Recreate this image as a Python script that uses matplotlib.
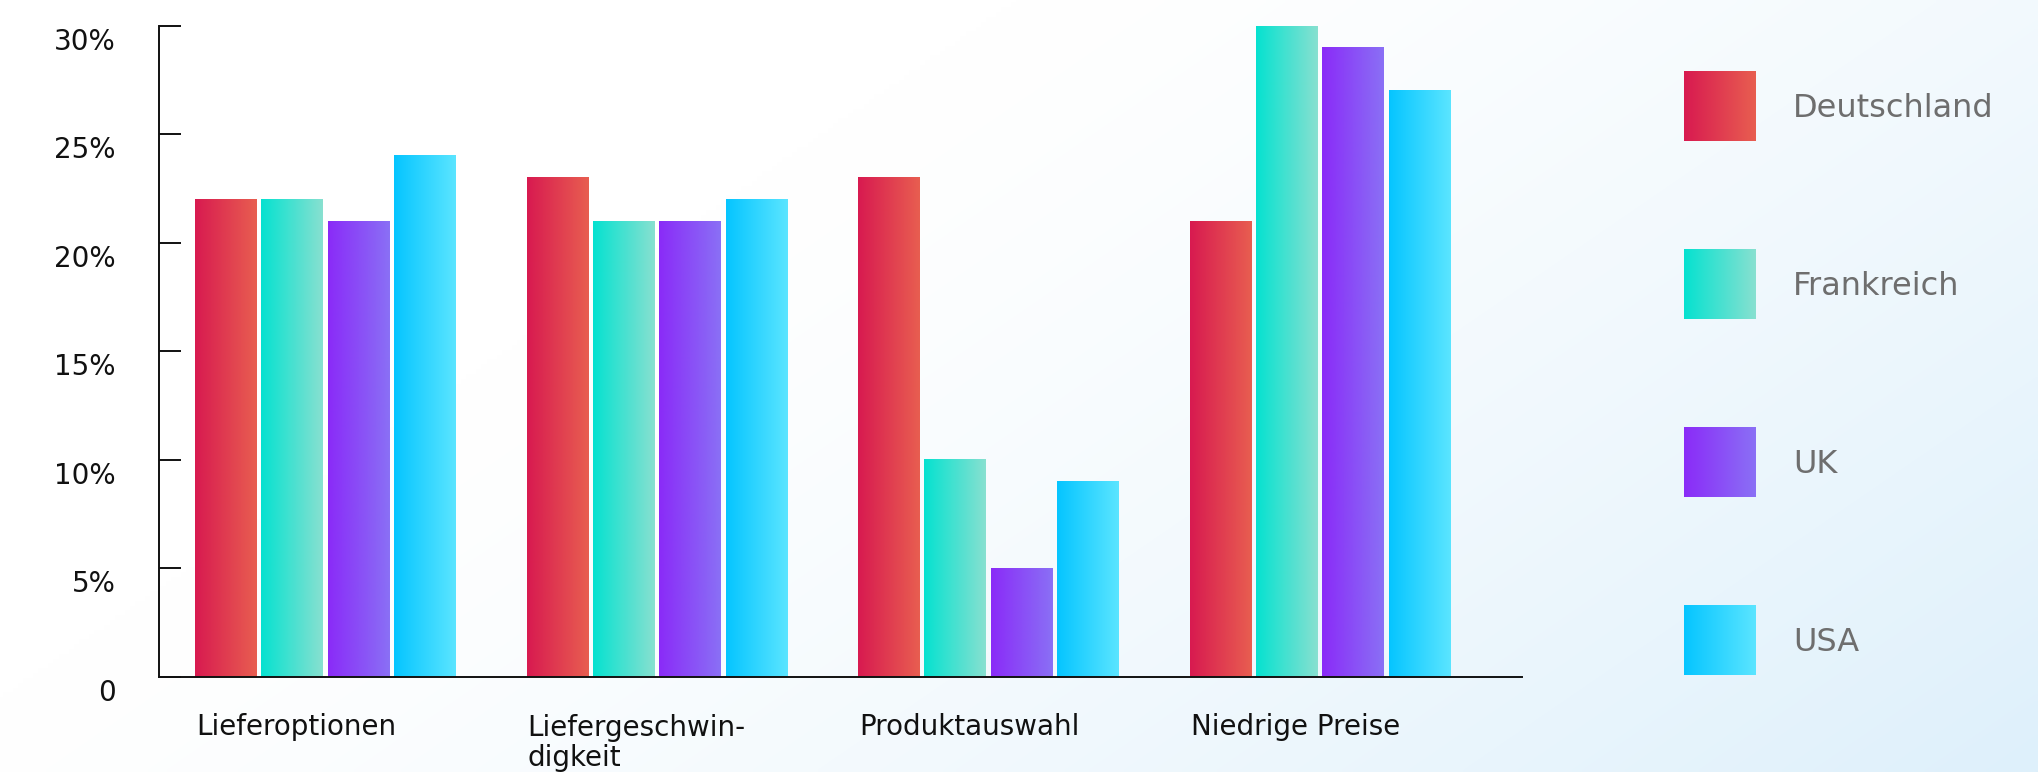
import matplotlib
matplotlib.use('Agg')
import matplotlib.pyplot as plt
import matplotlib.transforms as mtransforms
from matplotlib.colors import LinearSegmentedColormap
import numpy as np

# data
categories = ['Lieferoptionen', 'Liefergeschwin-\ndigkeit', 'Produktauswahl', 'Niedrige Preise']
countries = ['Deutschland', 'Frankreich', 'UK', 'USA']
deutschland = [22, 23, 23, 21]
frankreich = [22, 21, 10, 30]
uk = [21, 21, 5, 29]
usa = [24, 22, 9, 27]
yticks = [0, 5, 10, 15, 20, 25, 30]
ytick_labels = ['0', '5%', '10%', '15%', '20%', '25%', '30%']

series = [deutschland, frankreich, uk, usa]
gradients = [('#D81A50', '#E85E50'),
             ('#05E2D0', '#88E0D0'),
             ('#8A2BF8', '#8A70F5'),
             ('#05C5FF', '#5BE5FF')]

W, H = 2038, 772
fig = plt.figure(figsize=(W / 100, H / 100), dpi=100)

# background: white fading into light blue towards the bottom right
bg = fig.add_axes([0, 0, 1, 1], zorder=0)
xx, yy = np.meshgrid(np.linspace(0, 1, 400), np.linspace(0, 1, 160))
t = np.clip((xx + 0.55 * yy - 0.5) / 1.05, 0, 1) ** 1.3
c0 = np.array([255, 255, 255]) / 255
c1 = np.array([222, 240, 251]) / 255
img = c0 + (c1 - c0) * t[..., None]
bg.imshow(img, extent=[0, W, H, 0], aspect='auto', interpolation='bilinear')
bg.set_xlim(0, W)
bg.set_ylim(H, 0)
bg.axis('off')

# main axes
ax = fig.add_axes([159 / W, 95 / H, (1522 - 159) / W, (677 - 25.7) / H], zorder=1)
ax.patch.set_alpha(0)

x = np.arange(len(categories))
offsets = [-0.3, -0.1, 0.1, 0.3]
bar_w = 0.184
grad = np.linspace(0, 1, 256).reshape(1, -1)

for j, vals in enumerate(series):
    cmap = LinearSegmentedColormap.from_list(countries[j], list(gradients[j]))
    bars = ax.bar(x + offsets[j], vals, width=bar_w, color='none', edgecolor='none')
    for rect in bars:
        x0 = rect.get_x()
        ax.imshow(grad, cmap=cmap, extent=[x0, x0 + rect.get_width(), 0, rect.get_height()],
                  aspect='auto', interpolation='bilinear', zorder=2)

ax.set_xlim(-0.5006, 3.61)
ax.set_ylim(0, 30)

for s in ['top', 'right']:
    ax.spines[s].set_visible(False)
for s in ['left', 'bottom']:
    ax.spines[s].set_linewidth(1.4)
    ax.spines[s].set_color('#111111')
    ax.spines[s].set_zorder(3)

ax.set_xticks([])
ax.set_yticks(yticks)
ax.set_yticklabels(ytick_labels)
ax.tick_params(axis='y', direction='in', length=15.8, width=1.4, pad=31,
               labelsize=20, labelcolor='#111111', color='#111111')
shift = mtransforms.ScaledTranslation(0, -13 / 100, fig.dpi_scale_trans)
for lab in ax.get_yticklabels():
    lab.set_transform(lab.get_transform() + shift)

# category labels, left aligned under first bar of each group
# (baseline of the last line is anchored, so push multi-line labels down)
for i, cat in enumerate(categories):
    n_extra = cat.count('\n')
    lab_shift = mtransforms.ScaledTranslation(0, -(58 + 31 * n_extra) / 100, fig.dpi_scale_trans)
    trans = mtransforms.blended_transform_factory(ax.transData, ax.transAxes) + lab_shift
    ax.text(x[i] - 0.389, 0, cat, transform=trans, ha='left', va='baseline',
            fontsize=20, color='#111111', linespacing=1.1)

# legend drawn by hand in pixel coords
for j, name in enumerate(countries):
    top = 71 + 178 * j
    cmap = LinearSegmentedColormap.from_list(name + '_leg', list(gradients[j]))
    bg.imshow(grad, cmap=cmap, extent=[1684, 1756, top + 70, top],
              aspect='auto', interpolation='bilinear')
    bg.text(1793, top + 35 + 11, name, ha='left', va='baseline',
            fontsize=23, color='#6E6E6E')
bg.set_xlim(0, W)
bg.set_ylim(H, 0)

plt.savefig('out.png', dpi=100)
